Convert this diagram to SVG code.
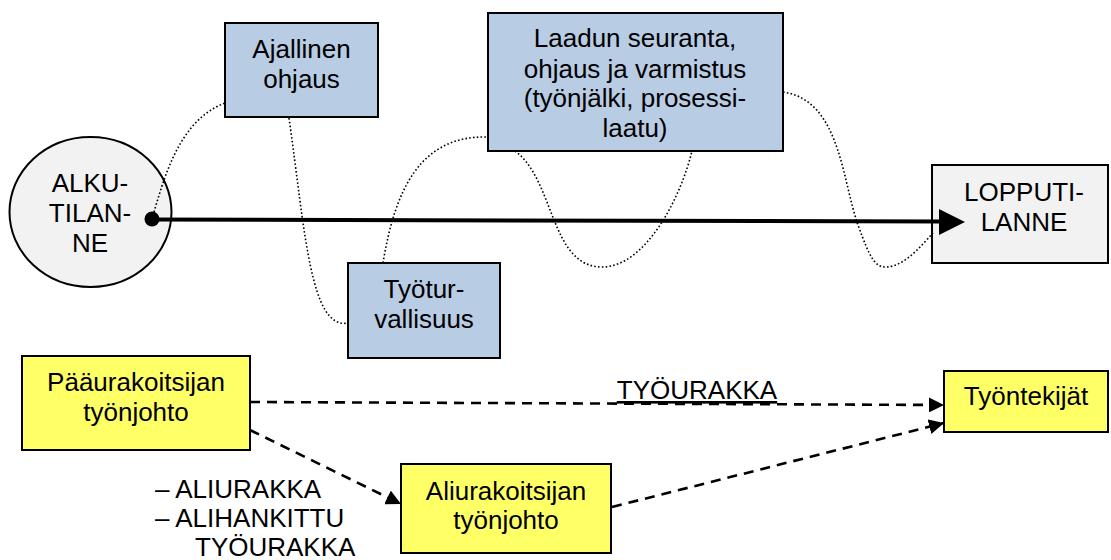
<svg xmlns="http://www.w3.org/2000/svg" width="1111" height="560" viewBox="0 0 1111 560">
  <style>
    text { font-family: "Liberation Sans", Arial, sans-serif; font-size: 26px; fill: #000; text-anchor: middle; }
    .blue { fill: #b8cce4; stroke: #000; stroke-width: 2; }
    .grey { fill: #f2f2f2; stroke: #000; stroke-width: 2; }
    .yellow { fill: #ffff66; stroke: #000; stroke-width: 2; }
    .dotted { fill: none; stroke: #000; stroke-width: 1.6; stroke-dasharray: 1.6 2.2; }
    .dashed { fill: none; stroke: #000; stroke-width: 2.6; stroke-dasharray: 10 7; }
    .main { fill: none; stroke: #000; stroke-width: 4; }
  </style>
  <defs>
    <marker id="tri" markerUnits="userSpaceOnUse" markerWidth="15" markerHeight="15" refX="15" refY="7.5" orient="auto" viewBox="0 0 15 15">
      <path d="M0,0 L15,7.5 L0,15 z" fill="#000"/>
    </marker>
  </defs>

  <rect width="1111" height="560" fill="#fff"/>

  <g id="alkutilanne">
    <ellipse class="grey" cx="90.5" cy="212" rx="81" ry="75"/>
    <text x="90" y="192">ALKU-</text>
    <text x="90" y="222">TILAN-</text>
    <text x="90" y="252">NE</text>
  </g>

  <g id="lopputilanne">
    <rect class="grey" x="932" y="165" width="176" height="98"/>
    <text x="1024" y="201">LOPPUTI-</text>
    <text x="1024" y="231">LANNE</text>
  </g>

  <g id="ajallinen-ohjaus">
    <rect class="blue" x="225" y="23" width="153" height="94"/>
    <text x="301.5" y="58">Ajallinen</text>
    <text x="301.5" y="88">ohjaus</text>
  </g>

  <g id="laadun-seuranta">
    <rect class="blue" x="488" y="13" width="295" height="138"/>
    <text x="635" y="47">Laadun seuranta,</text>
    <text x="635" y="77.5">ohjaus ja varmistus</text>
    <text x="635" y="107">(työnjälki, prosessi-</text>
    <text x="635" y="137">laatu)</text>
  </g>

  <g id="tyoturvallisuus">
    <rect class="blue" x="348" y="263" width="152" height="95"/>
    <text x="424" y="298">Työtur-</text>
    <text x="424" y="328">vallisuus</text>
  </g>

  <g id="paaurakoitsija">
    <rect class="yellow" x="22" y="356" width="228" height="94"/>
    <text x="136" y="391">Pääurakoitsijan</text>
    <text x="136" y="421">työnjohto</text>
  </g>

  <g id="aliurakoitsija">
    <rect class="yellow" x="401" y="464" width="210" height="89"/>
    <text x="506" y="500">Aliurakoitsijan</text>
    <text x="506" y="529">työnjohto</text>
  </g>

  <g id="tyontekijat">
    <rect class="yellow" x="944" y="371" width="164" height="61"/>
    <text x="1026" y="405">Työntekijät</text>
  </g>

  <!-- links: dotted control curves, the main process arrow, contracting relations -->
  <g id="connectors">
    <path class="dotted" d="M154,212 C165,175 180,120 225,103"/>
    <path class="dotted" d="M289,118 C305,230 310,330 348,323"/>
    <path class="dotted" d="M383,263 C395,190 420,135 488,137"/>
    <path class="dotted" d="M515,151 C555,180 550,268 603,267 C645,266 680,200 692,151"/>
    <path class="dotted" d="M783,92 C840,100 842,180 858,225 C870,258 875,268 887,267 C905,266 922,245 933,233"/>

    <line class="main" x1="152" y1="219.5" x2="942" y2="221.5"/>
    <circle cx="152" cy="219" r="7.5" fill="#000"/>
    <path d="M939,209 L965,222 L939,235 z" fill="#000"/>

    <line class="dashed" x1="250" y1="402" x2="944" y2="405" marker-end="url(#tri)"/>
    <line class="dashed" x1="612" y1="507" x2="944" y2="423" marker-end="url(#tri)"/>
    <line class="dashed" x1="250" y1="430" x2="401" y2="504" marker-end="url(#tri)"/>
  </g>

  <g id="labels">
    <text x="697" y="399" text-decoration="underline">TYÖURAKKA</text>
    <text x="155" y="498" style="text-anchor:start">– ALIURAKKA</text>
    <text x="155" y="527" style="text-anchor:start">– ALIHANKITTU</text>
    <text x="195" y="556" style="text-anchor:start">TYÖURAKKA</text>
  </g>
</svg>
